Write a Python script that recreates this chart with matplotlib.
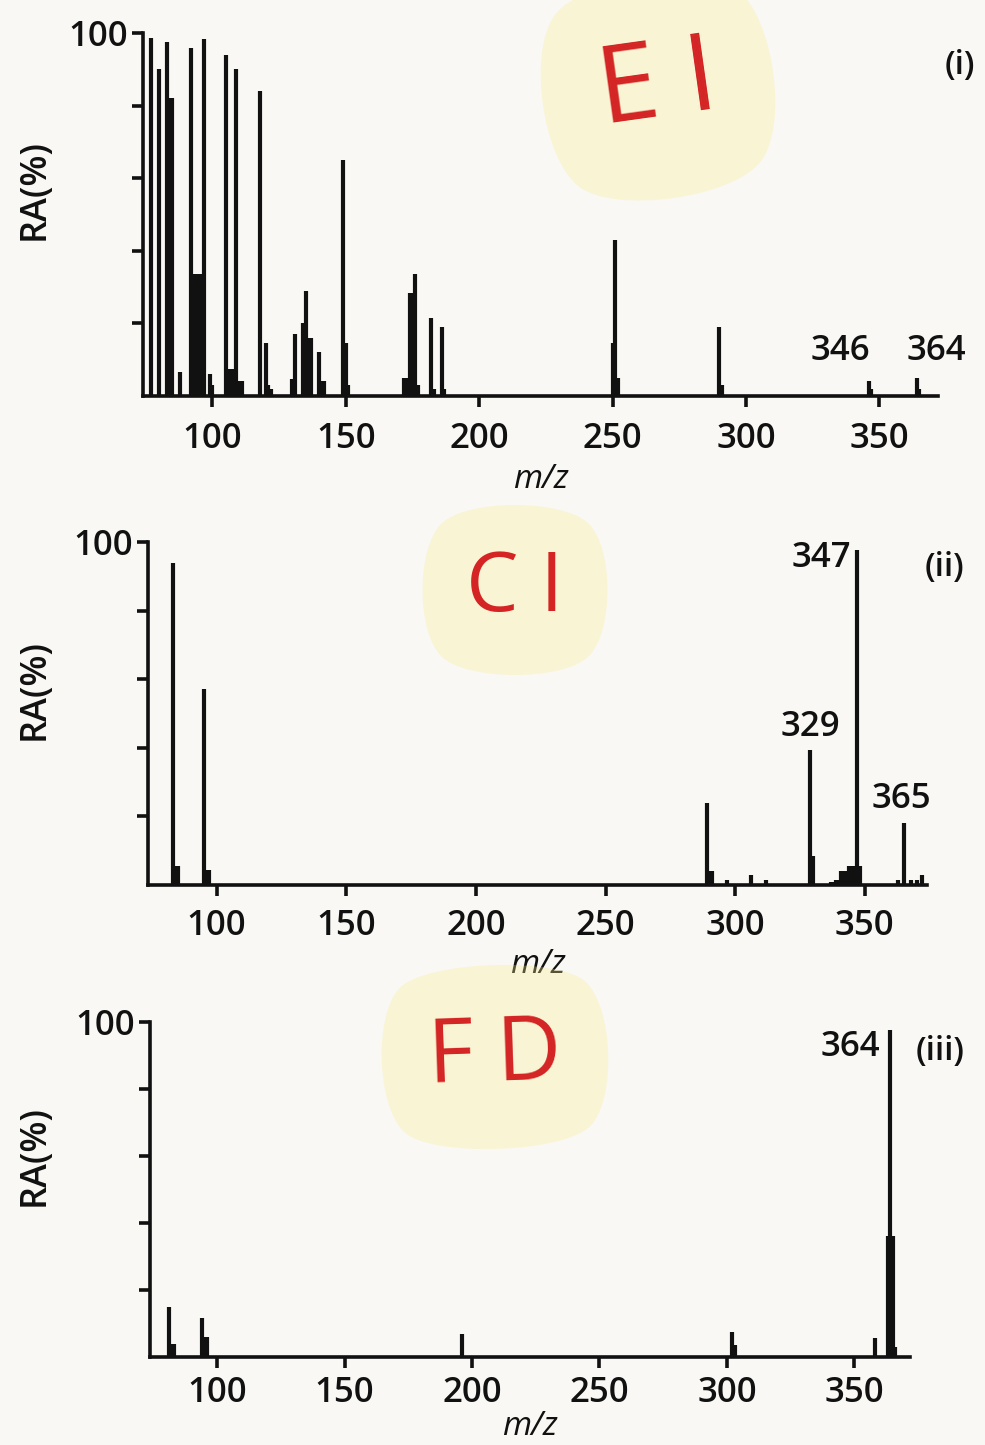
import matplotlib.pyplot as plt
import numpy as np

plt.rcParams['font.family'] = ['Open Sans', 'DejaVu Sans']
plt.rcParams['font.weight'] = 'semibold'

# (i) EI spectrum
ei_mz = [77, 80, 83, 84, 85, 88, 92, 93, 94, 95, 96, 97, 99, 100,
         105, 106, 107, 108, 109, 110, 111, 118, 120, 121, 122,
         130, 131, 134, 135, 136, 137, 140, 141, 142, 149, 150, 151,
         172, 173, 174, 175, 176, 177, 182, 183, 186, 187,
         250, 251, 252, 290, 291, 346, 347, 364, 365]
ei_ra = [98.5, 90, 97.5, 82, 82, 6.5, 96, 33.5, 33.5, 33.5, 33.5, 98.3, 6, 3,
         94, 7.5, 7.5, 7.5, 90, 4, 4, 84, 14.5, 3, 2,
         4.7, 17, 20, 29, 16, 16, 12, 4, 4, 65, 14.5, 3,
         5, 5, 28.5, 28.5, 33.5, 3, 21.5, 2, 19, 2,
         14.5, 43, 5, 19, 3, 4, 2, 5, 2]

# (ii) CI spectrum
ci_mz = [83, 84, 85, 95, 96, 97, 289, 290, 291, 297, 306, 312,
         329, 330, 337, 338, 339, 340, 341, 342, 343, 344, 345, 346, 347,
         348, 363, 365, 368, 370, 372]
ci_ra = [94, 5.6, 5.6, 57, 4.4, 4.4, 24, 4, 4, 1.5, 3, 1.5,
         39.4, 8.5, 1, 1, 1.5, 1.5, 4, 4, 4, 5.5, 5.5, 5.5, 97.6,
         5.5, 1.5, 18, 1.5, 1.5, 3]

# (iii) FD spectrum
fd_mz = [81, 82, 83, 94, 95, 96, 196, 302, 303, 358, 363, 364, 365, 366]
fd_ra = [15, 4, 4, 11.6, 6, 6, 7, 7.5, 3.6, 5.7, 36, 97.6, 36, 3]

xticks = [100, 150, 200, 250, 300, 350]

W, H = 985, 1445
fig = plt.figure(figsize=(W / 100, H / 100), dpi=100)
fig.patch.set_facecolor('#f9f8f4')


def make_ax(x0, y0, x1, y1):
    return fig.add_axes([x0 / W, 1 - y1 / H, (x1 - x0) / W, (y1 - y0) / H])


def spectrum(ax, mz, ra, xlim, pad, lpad):
    ax.set_facecolor('none')
    ax.vlines(mz, 0, ra, colors='#111111', lw=3.0, clip_on=False)
    ax.set_xlim(*xlim)
    ax.set_ylim(0, 100)
    for s in ['top', 'right']:
        ax.spines[s].set_visible(False)
    for s in ['left', 'bottom']:
        ax.spines[s].set_linewidth(2.6)
        ax.spines[s].set_color('#111111')
    ax.set_xticks(xticks)
    ax.set_xticklabels([str(t) for t in xticks])
    ax.set_yticks([20, 40, 60, 80, 100])
    ax.set_yticklabels(['', '', '', '', '100'])
    ax.tick_params(direction='out', length=8, width=2.6, color='#111111',
                   labelsize=25, labelcolor='#111111', pad=3)
    ax.tick_params(axis='x', pad=pad)
    ax.set_xlabel('m/z', fontsize=24, style='italic', labelpad=lpad,
                  color='#111111')


def peak_label(ax, mz, ra, m, dx, dy, ha, va):
    i = mz.index(m)
    ax.annotate(str(m), xy=(m, ra[i]), xytext=(dx, dy),
                textcoords='offset points', ha=ha, va=va,
                fontsize=25, color='#111111')


hl = dict(boxstyle='round4,pad=0.6', facecolor='#f6ee8c', edgecolor='none',
          alpha=0.3)

# panel (i)
ax1 = make_ax(143, 33, 938, 396)
spectrum(ax1, ei_mz, ei_ra, (74, 372), 11, 5)
peak_label(ax1, ei_mz, ei_ra, 346, -20, 10, 'center', 'bottom')
peak_label(ax1, ei_mz, ei_ra, 364, 14, 7, 'center', 'bottom')

# panel (ii)
ax2 = make_ax(148, 542, 927, 885)
spectrum(ax2, ci_mz, ci_ra, (73.5, 374), 9, 4)
peak_label(ax2, ci_mz, ci_ra, 347, -4, 7, 'right', 'top')
peak_label(ax2, ci_mz, ci_ra, 329, 0, 4, 'center', 'bottom')
peak_label(ax2, ci_mz, ci_ra, 365, -2, 5, 'center', 'bottom')

# panel (iii)
ax3 = make_ax(150, 1022, 910, 1357)
spectrum(ax3, fd_mz, fd_ra, (73.7, 371.8), 6, 0)
peak_label(ax3, fd_mz, fd_ra, 364, -7, 0, 'right', 'top')

# panel tags and y labels
for (x, y), tag in zip([(960, 65), (945, 568), (940, 1052)],
                       ['(i)', '(ii)', '(iii)']):
    fig.text(x / W, 1 - y / H, tag, ha='center', va='center', fontsize=24,
             color='#111111')
for y in [190, 690, 1155]:
    fig.text(35 / W, 1 - y / H, 'RA(%)', rotation=90, ha='center',
             va='center', fontsize=26, color='#111111')

# handwritten ionisation labels
for (x, y), lab, size, rot in zip([(658, 88), (515, 590), (495, 1057)],
                                  ['E I', 'C I', 'F D'], [78, 60, 64],
                                  [8, 0, 2]):
    fig.text(x / W, 1 - y / H, lab, ha='center', va='center', fontsize=size,
             color='#d42424', rotation=rot, fontweight='normal', bbox=hl)

fig.savefig('out.png', dpi=100, facecolor=fig.get_facecolor())
